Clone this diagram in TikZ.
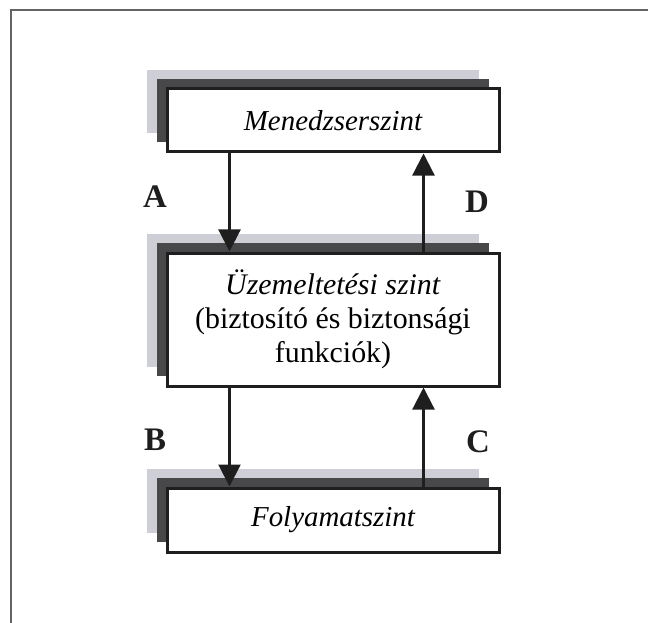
\documentclass[tikz,border=0pt]{standalone}
\usepackage{fontspec}
\setmainfont{Liberation Serif}
\usetikzlibrary{arrows.meta,shadows}
\definecolor{lightsh}{RGB}{206,207,214}
\definecolor{darksh}{RGB}{72,72,74}
\definecolor{ink}{RGB}{30,30,30}
\definecolor{framec}{RGB}{100,100,100}
\tikzset{
  level/.style={draw=ink, line width=3bp, fill=white, inner sep=0pt,
    minimum width=332bp, align=center,
    general shadow={fill=lightsh, shadow xshift=-20bp, shadow yshift=19bp},
    general shadow={fill=darksh, shadow xshift=-10bp, shadow yshift=10bp}},
  lbl/.style={font=\fontsize{33}{33}\selectfont\bfseries, text=ink},
  flow/.style={draw=ink, line width=2.2bp, -{Triangle[length=22bp,width=22bp]}}
}
\begin{document}
\begin{tikzpicture}[x=1bp,y=-1bp]
\useasboundingbox (0,0) rectangle (648,623);
% outer frame
\draw[framec, line width=2bp] (11,623) -- (11,10) -- (648,10);

% levels
\node[level, minimum height=63bp, font=\fontsize{29}{34}\selectfont\itshape]
  (top) at (333,120.5) {Menedzserszint};
\node[level, minimum height=133bp, font=\fontsize{30}{34}\selectfont]
  (mid) at (333,319.5) {\textit{Üzemeltetési szint}\\(biztosító és biztonsági\\funkciók)};
\node[level, minimum height=64bp, font=\fontsize{29}{34}\selectfont\itshape]
  (bot) at (333,520) {Folyamatszint};

% flows between levels
\draw[flow] ([xshift=64bp]top.south west) -- ([xshift=64bp]mid.north west);
\draw[flow] ([xshift=-77bp]mid.north east) -- ([xshift=-77bp]top.south east);
\draw[flow] ([xshift=64bp]mid.south west) -- ([xshift=64bp]bot.north west);
\draw[flow] ([xshift=-77bp]bot.north east) -- ([xshift=-77bp]mid.south east);

% flow labels
\node[lbl] (la) at (155,197) {A};
\node[lbl] (ld) at (477,202) {D};
\node[lbl] (lb) at (155,440) {B};
\node[lbl] (lc) at (478,442) {C};
\end{tikzpicture}
\end{document}
